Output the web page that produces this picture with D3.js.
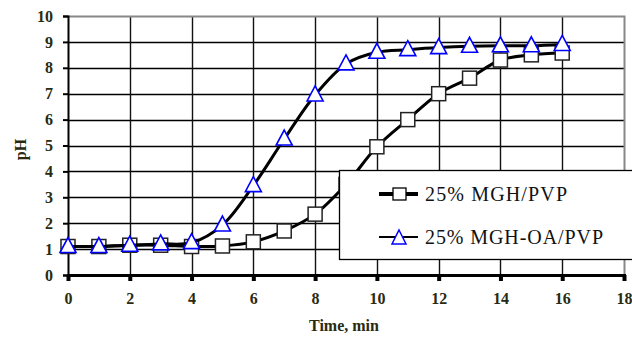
<!DOCTYPE html>
<html>
<head>
<meta charset="utf-8">
<script src="https://cdn.jsdelivr.net/npm/d3@7"></script>
<style>
  html, body { margin: 0; padding: 0; background: #fff; }
  svg { display: block; }
  svg text { font-family: "Liberation Serif", Tinos, "Times New Roman", Times, "DejaVu Serif", serif; }
</style>
</head>
<body>
<svg id="chart" width="632" height="339"></svg>
<script>
// Sampling times (min)
const times = [0, 1, 2, 3, 4, 5, 6, 7, 8, 9, 10, 11, 12, 13, 14, 15, 16];
// pH readings for each formulation
const phMghPvp   = [1.1, 1.1, 1.15, 1.15, 1.1, 1.12, 1.28, 1.7, 2.35, 3.5, 4.95, 6.0, 7.0, 7.6, 8.3, 8.5, 8.57];
const phMghOaPvp = [1.1, 1.1, 1.15, 1.2, 1.25, 1.93, 3.45, 5.25, 6.95, 8.15, 8.6, 8.7, 8.78, 8.83, 8.85, 8.85, 8.9];
const seriesNames = ["25% MGH/PVP", "25% MGH-OA/PVP"];
const xTicks = [0, 2, 4, 6, 8, 10, 12, 14, 16, 18];
const yTicks = [0, 1, 2, 3, 4, 5, 6, 7, 8, 9, 10];

const svg = d3.select("#chart");
const plotL = 68, plotR = 624, plotT = 16, plotB = 275;

const x = d3.scaleLinear().domain([0, 18]).range([plotL, plotR]);
const y = d3.scaleLinear().domain([0, 10]).range([plotB, plotT]);

// Horizontal grid lines
svg.append("g").selectAll("line").data(yTicks.slice(1, -1)).join("line")
  .attr("x1", plotL).attr("x2", plotR)
  .attr("y1", d => Math.round(y(d)) + 0.5).attr("y2", d => Math.round(y(d)) + 0.5)
  .attr("stroke", "#000").attr("stroke-width", 1.3);

// Vertical grid lines
svg.append("g").selectAll("line").data(xTicks.slice(1, -1)).join("line")
  .attr("y1", plotT).attr("y2", plotB)
  .attr("x1", d => Math.round(x(d)) + 0.5).attr("x2", d => Math.round(x(d)) + 0.5)
  .attr("stroke", "#111").attr("stroke-width", 1.4);

// Top and right frame
svg.append("path")
  .attr("d", `M${plotL},${plotT + 0.5}H${plotR + 0.5}V${plotB}`)
  .attr("fill", "none").attr("stroke", "#888").attr("stroke-width", 2);

// Y axis
const yAxis = svg.append("g")
  .attr("transform", `translate(${plotL},0)`)
  .call(d3.axisLeft(y).tickValues(yTicks).tickSize(5).tickPadding(10).tickFormat(d3.format("d")));
yAxis.attr("font-family", null);
yAxis.select(".domain").attr("stroke", "#000").attr("stroke-width", 2);
yAxis.selectAll(".tick line").attr("stroke", "#000").attr("stroke-width", 2);
yAxis.selectAll("text").attr("font-weight", "bold")
  .attr("font-size", 16).attr("fill", "#2a2a10");

// X axis
const xAxis = svg.append("g")
  .attr("transform", `translate(0,${plotB})`)
  .call(d3.axisBottom(x).tickValues(xTicks).tickSize(6).tickPadding(12).tickFormat(d3.format("d")));
xAxis.attr("font-family", null);
xAxis.select(".domain").attr("stroke", "#000").attr("stroke-width", 3);
xAxis.selectAll(".tick line").attr("stroke", "#000").attr("stroke-width", 4);
xAxis.selectAll("text").attr("font-weight", "bold")
  .attr("font-size", 16).attr("fill", "#2a2a10");

// Axis titles
svg.append("text")
  .attr("transform", `translate(26,${(plotT + plotB) / 2 + 4}) rotate(-90)`)
  .attr("text-anchor", "middle")
  .attr("font-weight", "bold").attr("font-size", 16)
  .attr("fill", "#2a2a10").text("pH");
svg.append("text")
  .attr("x", 344).attr("y", 331).attr("text-anchor", "middle")
  .attr("font-weight", "bold").attr("font-size", 16)
  .attr("fill", "#2a2a10").text("Time, min");

const line = d3.line()
  .x(d => x(d[0])).y(d => y(d[1]))
  .curve(d3.curveCatmullRom.alpha(0.5));

const sq = times.map((t, i) => [t, phMghPvp[i]]);
const tr = times.map((t, i) => [t, phMghOaPvp[i]]);

// Square series
svg.append("path").datum(sq).attr("d", line)
  .attr("fill", "none").attr("stroke", "#000").attr("stroke-width", 3);
svg.append("g").selectAll("rect").data(sq).join("rect")
  .attr("x", d => x(d[0]) - 7).attr("y", d => y(d[1]) - 7)
  .attr("width", 14).attr("height", 14)
  .attr("fill", "#fff").attr("stroke", "#222").attr("stroke-width", 1.5);

// Triangle series
const triPath = "M0,-9L8,6H-8Z";
svg.append("path").datum(tr).attr("d", line)
  .attr("fill", "none").attr("stroke", "#000").attr("stroke-width", 3);
svg.append("g").selectAll("path").data(tr).join("path")
  .attr("transform", d => `translate(${x(d[0])},${y(d[1])})`)
  .attr("d", triPath)
  .attr("fill", "#fff").attr("stroke", "#00f").attr("stroke-width", 1.6);

// Legend
const lg = svg.append("g");
lg.append("rect").attr("x", 339.5).attr("y", 170.5).attr("width", 300).attr("height", 89)
  .attr("fill", "#fff").attr("stroke", "#000").attr("stroke-width", 1.3);
const rows = [194, 237];
rows.forEach((ry, i) => {
  lg.append("line").attr("x1", 379).attr("x2", 418).attr("y1", ry).attr("y2", ry)
    .attr("stroke", "#000").attr("stroke-width", i === 0 ? 4 : 2);
  if (i === 0) {
    lg.append("rect").attr("x", 393).attr("y", ry - 6).attr("width", 13).attr("height", 12)
      .attr("fill", "#fff").attr("stroke", "#000").attr("stroke-width", 1.3);
  } else {
    lg.append("path").attr("transform", `translate(399,${ry + 1})`).attr("d", "M0,-8L7,6H-7Z")
      .attr("fill", "#fff").attr("stroke", "#00f").attr("stroke-width", 1.5);
  }
  lg.append("text").attr("x", 425).attr("y", ry + 7)
    .attr("font-size", 20).attr("fill", "#111")
    .attr("textLength", i === 0 ? 142 : 178).attr("lengthAdjust", "spacing")
    .text(seriesNames[i]);
});
</script>
</body>
</html>
